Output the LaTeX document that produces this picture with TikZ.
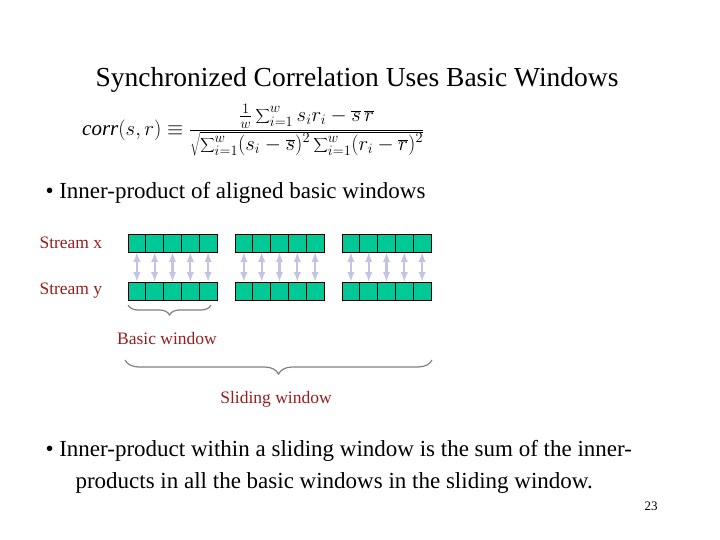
\documentclass[tikz,border=0pt]{standalone}
\usepackage{fontspec}
\setmainfont{Liberation Serif}
\usetikzlibrary{decorations.pathreplacing}
\definecolor{cell}{RGB}{0,200,150}
\definecolor{lab}{RGB}{150,30,30}
\definecolor{arr}{RGB}{195,195,228}
\tikzset{cellbox/.style={draw=black,fill=cell,minimum width=17.8pt,minimum height=18pt,inner sep=0,line width=0.8pt},
lbl/.style={text=lab,font=\fontsize{17.5}{20}\selectfont},
brc/.style={draw=gray,line width=1.2pt,decorate,decoration={brace,mirror,amplitude=10pt}}}
\begin{document}
\begin{tikzpicture}[x=1pt,y=-1pt]
\useasboundingbox (0,0) rectangle (720,540);
\node (title) at (357,80) {\fontsize{27.5}{32}\selectfont Synchronized Correlation Uses Basic Windows};
\node[anchor=west,inner sep=0] (formula) at (82,130) {\fontsize{21}{25}\selectfont $\displaystyle \mathit{corr}(s,r)\equiv\frac{\frac{1}{w}\displaystyle\sum\nolimits_{i=1}^{w}s_ir_i-\overline{s}\,\overline{r}}{\sqrt{\displaystyle\sum\nolimits_{i=1}^{w}(s_i-\overline{s})^2\sum\nolimits_{i=1}^{w}(r_i-\overline{r})^2}}$};
\node[anchor=west] (b1) at (42,193) {\fontsize{23}{27}\selectfont • Inner-product of aligned basic windows};
\node[lbl,anchor=west] (sx) at (36,243) {Stream x};
\node[lbl,anchor=west] (sy) at (36,291) {Stream y};
\foreach \b/\x in {0/128,1/235,2/342}{
 \foreach \i in {0,...,4}{
  \node[cellbox] (x\b\i) at (\x+8.9+17.8*\i,243) {};
  \node[cellbox] (y\b\i) at (\x+8.9+17.8*\i,291) {};
  \draw[arr,line width=2.2pt,<->,>=latex] (x\b\i) -- (y\b\i);
 }}
\coordinate (bwl) at (128,305); \coordinate (bwr) at (211,305);
\draw[brc] (bwl) -- (bwr);
\node[lbl] (bw) at (167,339) {Basic window};
\coordinate (swl) at (125,360); \coordinate (swr) at (432,360);
\draw[brc,decoration={brace,mirror,amplitude=14pt}] (swl) -- (swr);
\node[lbl] (sw) at (276,399) {Sliding window};
\node[anchor=north west,align=left,font=\fontsize{23}{32}\selectfont] (b2) at (42,437) {• Inner-product within a sliding window is the sum of the inner-\\\hspace*{30pt}products in all the basic windows in the sliding window.};
\node (pg) at (651,506) {\fontsize{13}{15}\selectfont 23};
\end{tikzpicture}
\end{document}
